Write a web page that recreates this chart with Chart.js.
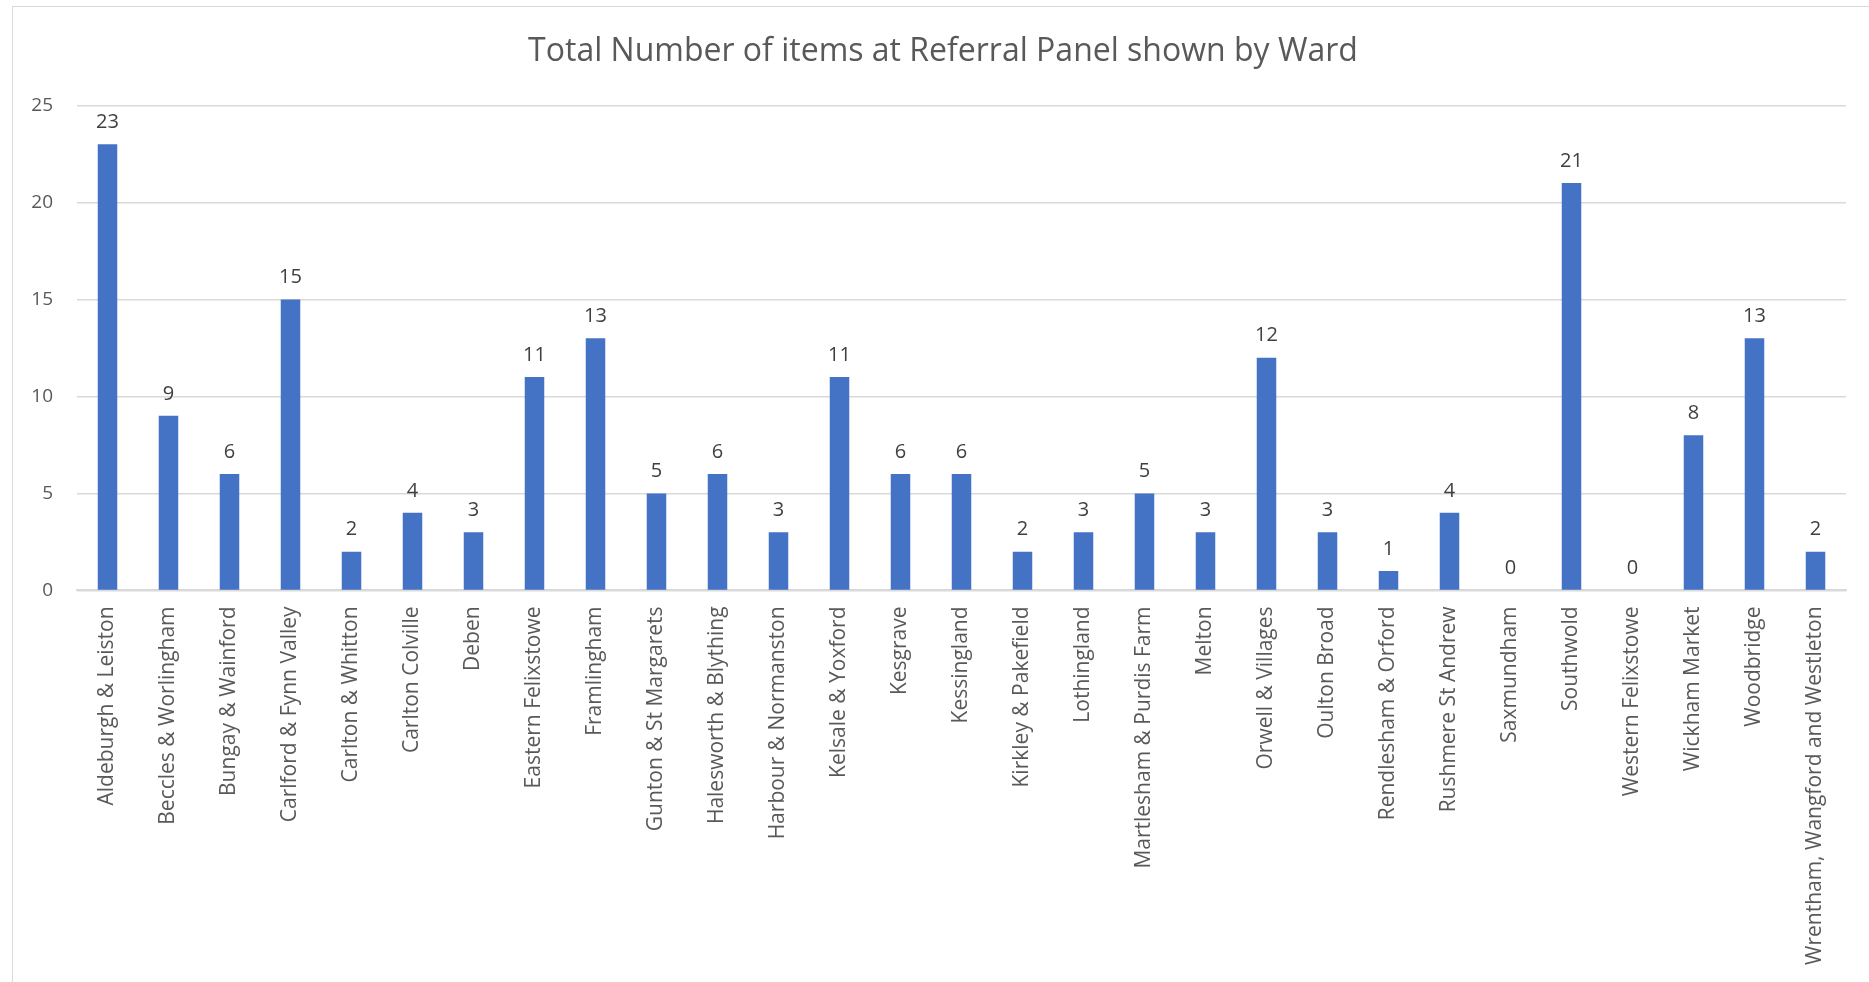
<!DOCTYPE html>
<html>
<head>
<meta charset="utf-8">
<script src="https://cdn.jsdelivr.net/npm/chart.js@4.4.1/dist/chart.umd.min.js"></script>
<style>
  html, body { margin: 0; padding: 0; background: #fff; overflow: hidden; }
  .frame {
    position: absolute; left: 12px; top: 6px;
    width: 1900px; height: 1000px;
    border: 1px solid #d9d9d9;
  }
  .wrap { position: absolute; left: 0; top: 0; width: 1881px; height: 982px; }
</style>
</head>
<body>
<div class="frame"></div>
<div class="wrap"><canvas id="bar-chart"></canvas></div>
<script>
const wards = [
  "Aldeburgh & Leiston", "Beccles & Worlingham", "Bungay & Wainford",
  "Carlford & Fynn Valley", "Carlton & Whitton", "Carlton Colville", "Deben",
  "Eastern Felixstowe", "Framlingham", "Gunton & St Margarets",
  "Halesworth & Blything", "Harbour & Normanston", "Kelsale & Yoxford",
  "Kesgrave", "Kessingland", "Kirkley & Pakefield", "Lothingland",
  "Martlesham & Purdis Farm", "Melton", "Orwell & Villages", "Oulton Broad",
  "Rendlesham & Orford", "Rushmere St Andrew", "Saxmundham", "Southwold",
  "Western Felixstowe", "Wickham Market", "Woodbridge",
  "Wrentham, Wangford and Westleton"
];
const itemCounts = [23, 9, 6, 15, 2, 4, 3, 11, 13, 5, 6, 3, 11, 6, 6, 2, 3, 5, 3, 12, 3, 1, 4, 0, 21, 0, 8, 13, 2];
const yTicks = [0, 5, 10, 15, 20, 25];

const textGrey = "#595959";
const fontFamily = "'Open Sans', 'Noto Sans', sans-serif";

// draws the value above each bar
const valueLabels = {
  id: "valueLabels",
  afterDatasetsDraw(chart) {
    const ctx = chart.ctx;
    const meta = chart.getDatasetMeta(0);
    ctx.save();
    ctx.font = "20px " + fontFamily;
    ctx.fillStyle = "#404040";
    ctx.textAlign = "center";
    ctx.textBaseline = "bottom";
    meta.data.forEach((bar, i) => {
      ctx.fillText(String(itemCounts[i]), bar.x, bar.y - 12);
    });
    ctx.restore();
  },
};

const barConfig = {
  type: "bar",
  data: {
    labels: wards,
    datasets: [
      {
        label: "Items",
        data: itemCounts,
        backgroundColor: "#4472C4",
        barPercentage: 0.32,
        categoryPercentage: 1,
        yAxisID: "y",
      },
    ],
  },
  options: {
    responsive: true,
    maintainAspectRatio: false,
    animation: false,
    layout: {
      padding: { left: 13, top: 33, right: 8, bottom: 1 },
    },
    scales: {
      x: {
        grid: { display: false, drawTicks: false },
        border: { color: "#d9d9d9", width: 2 },
        ticks: {
          autoSkip: false,
          minRotation: 90,
          maxRotation: 90,
          padding: 16,
          color: textGrey,
          font: { size: 21, family: fontFamily },
        },
      },
      y: {
        min: 0,
        max: 25,
        afterBuildTicks(axis) {
          axis.ticks = yTicks.map((v) => ({ value: v }));
        },
        afterFit(axis) {
          axis.width = 64;
        },
        grid: { color: "#d9d9d9", lineWidth: 1.5, drawTicks: false },
        border: { display: false },
        ticks: {
          padding: 24,
          color: textGrey,
          font: { size: 19, family: fontFamily },
        },
      },
      // empty right-hand space so the plot ends where the reference does
      spacer: {
        position: "right",
        grid: { display: false, drawTicks: false },
        border: { display: false },
        ticks: { display: false },
        afterFit(axis) {
          axis.width = 27;
        },
      },
    },
    plugins: {
      legend: { display: false },
      tooltip: { enabled: false },
      title: {
        display: true,
        text: "Total Number of items at Referral Panel shown by Ward",
        color: textGrey,
        font: { size: 32, family: fontFamily, weight: "normal" },
        padding: { top: 0, bottom: 34 },
      },
    },
  },
  plugins: [valueLabels],
};

const barChart = new Chart(document.getElementById("bar-chart"), barConfig);
</script>
</body>
</html>
